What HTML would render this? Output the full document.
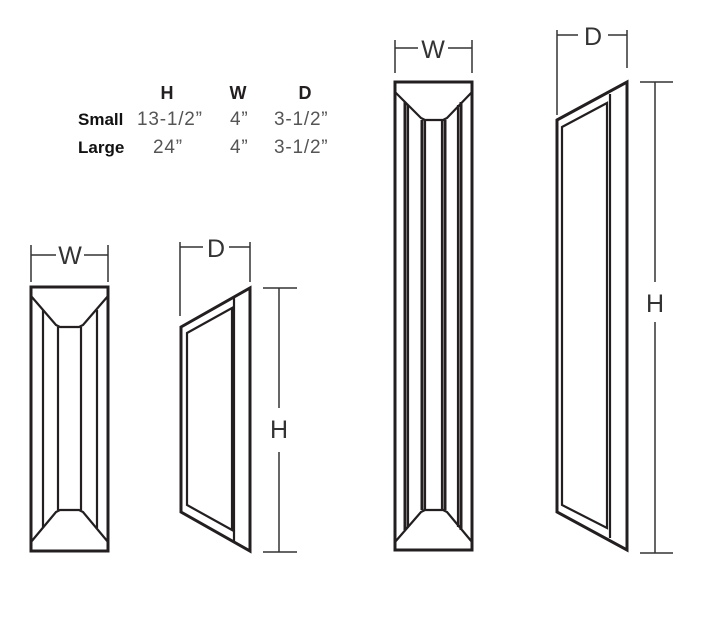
<!DOCTYPE html>
<html><head><meta charset="utf-8"><style>
html,body{margin:0;padding:0;background:#fff;}
svg{display:block;}
.o{fill:none;stroke:#231f20;stroke-width:3;stroke-linejoin:miter;}
.t{fill:none;stroke:#231f20;stroke-width:2.2;}
.d{fill:none;stroke:#333;stroke-width:1.5;}
.lab{font-family:"Liberation Sans",sans-serif;font-size:25px;fill:#333;text-anchor:middle;}
.hd{font-family:"Liberation Sans",sans-serif;font-size:18px;font-weight:bold;fill:#231f20;text-anchor:middle;}
.rl{font-family:"Liberation Sans",sans-serif;font-size:17px;font-weight:bold;fill:#111;}
.v{font-family:"Liberation Sans",sans-serif;font-size:19px;fill:#555;letter-spacing:0.8px;}
</style></head><body>
<svg width="707" height="619" viewBox="0 0 707 619" xmlns="http://www.w3.org/2000/svg">
<!-- table -->
<text class="hd" x="167" y="99">H</text>
<text class="hd" x="238" y="99">W</text>
<text class="hd" x="305" y="99">D</text>
<text class="rl" x="78" y="125">Small</text>
<text class="rl" x="78" y="153">Large</text>
<text class="v" x="137" y="125">13-1/2”</text>
<text class="v" x="230" y="125">4”</text>
<text class="v" x="274" y="125">3-1/2”</text>
<text class="v" x="153" y="153">24”</text>
<text class="v" x="230" y="153">4”</text>
<text class="v" x="274" y="153">3-1/2”</text>

<!-- small front -->
<path class="d" d="M31 245V282M108 245V282M31 255H56M84 255H108"/>
<text class="lab" x="70" y="264">W</text>
<rect class="o" x="31" y="287" width="77" height="264"/>
<path class="t" d="M31 296L56 325L60 327H79L83 325L108 296"/>
<path class="t" d="M31 542L56 512L60 510H79L83 512L108 542"/>
<path class="t" d="M43 310V528M97 310V528M58 327V510M81 327V510"/>

<!-- small side -->
<path class="d" d="M180 242V316M250 242V282M180 247H203M229 247H250"/>
<text class="lab" x="216" y="257">D</text>
<path class="o" d="M181 327L250 288V551L181 512Z"/>
<path class="t" d="M187 333L232 308V530L187 505Z"/>
<path class="t" d="M234 297V541"/>
<path class="d" d="M263 288H297M263 552H297M279 288V408M279 452V552"/>
<text class="lab" x="279" y="438">H</text>

<!-- large front -->
<path class="d" d="M395 40V73M472 40V73M395 48H418M448 48H472"/>
<text class="lab" x="433" y="58">W</text>
<rect class="o" x="395" y="82" width="77" height="468"/>
<path class="t" d="M395 92L421 118L425 120H443L447 118L472 92"/>
<path class="t" d="M395 542L421 512L425 510H443L447 512L472 542"/>
<path class="o" d="M405 102V530M461 102V530M422 120V510M445 120V510"/>
<path class="t" d="M408 105V527M458 105V527M425 120V510M442 120V510"/>

<!-- large side -->
<path class="d" d="M557 30V115M627 30V68M557 35H578M608 35H627"/>
<text class="lab" x="593" y="45">D</text>
<path class="o" d="M557 120L627 82V550L557 512Z"/>
<path class="t" d="M562 127L607 103V528L562 505Z"/>
<path class="t" d="M610 94V538"/>
<path class="d" d="M640 82H673M640 553H673M655 82V282M655 322V553"/>
<text class="lab" x="655" y="312">H</text>
</svg>
</body></html>
